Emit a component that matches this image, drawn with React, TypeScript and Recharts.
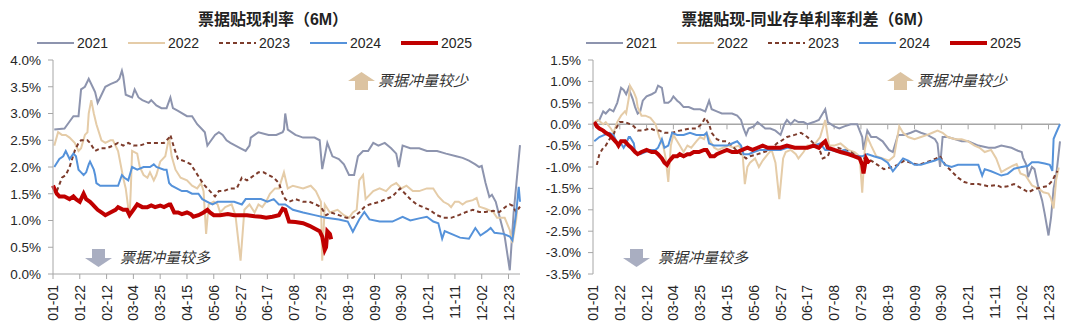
import React from 'react'
import { LineChart, Line, XAxis, YAxis, ReferenceLine } from 'recharts'

type P = [number, number][]

const FONT = '"Liberation Sans", Arial, "Noto Sans CJK SC", sans-serif'
const AXIS = '#a6a6a6'
const INK = '#262626'

// x categories: day index in a 366-day calendar, a label every 21 days
const tickLabels = ['01-01', '01-22', '02-12', '03-04', '03-25', '04-15', '05-06', '05-27', '06-17',
  '07-08', '07-29', '08-19', '09-09', '09-30', '10-21', '11-11', '12-02', '12-23']
const tickDays = tickLabels.map((_, i) => i * 21)
const years = ['2021', '2022', '2023', '2024', '2025']

const rateTicks = [0, 0.5, 1, 1.5, 2, 2.5, 3, 3.5, 4]
const spreadTicks = [-3.5, -3, -2.5, -2, -1.5, -1, -0.5, 0, 0.5, 1, 1.5]

// 票据贴现利率（6M）, %
const rate2021: P = [[1,2.70],[9,2.72],[13,2.85],[16,2.95],[20,2.95],[22,3.45],[25,3.50],[28,3.65],[31,3.50],[33,3.40],[35,3.20],[37,3.30],[41,3.50],[45,3.55],[50,3.60],[52,3.65],[54,3.80],[55,3.70],[57,3.35],[62,3.30],[64,3.45],[67,3.30],[70,3.25],[75,3.20],[77,3.25],[81,3.15],[85,3.10],[89,3.10],[92,3.30],[94,3.10],[98,3.05],[105,2.95],[109,2.95],[113,2.80],[117,2.70],[119,2.65],[121,2.40],[124,2.50],[127,2.60],[130,2.65],[133,2.60],[136,2.50],[139,2.45],[143,2.40],[147,2.35],[151,2.30],[154,2.40],[155,2.55],[158,2.60],[161,2.65],[169,2.60],[175,2.60],[180,2.65],[181,2.70],[182,3.00],[184,2.70],[190,2.60],[196,2.55],[205,2.55],[209,2.50],[211,1.96],[215,2.45],[219,2.20],[224,2.15],[228,2.05],[232,1.85],[236,1.85],[239,2.20],[243,2.30],[247,2.30],[251,2.45],[255,2.40],[260,2.45],[265,2.35],[269,2.25],[271,2.00],[274,2.40],[280,2.35],[287,2.35],[293,2.30],[301,2.30],[308,2.25],[316,2.20],[321,2.17],[326,2.12],[331,2.05],[334,2.00],[336,2.02],[339,1.70],[342,1.44],[344,1.48],[347,1.35],[350,1.07],[354,0.70],[358,0.07],[361,1.14],[366,2.41]]
const rate2022: P = [[1,2.40],[4,2.65],[7,2.60],[10,2.60],[13,2.55],[17,2.45],[20,2.30],[22,2.35],[25,2.60],[27,2.65],[28,3.00],[30,3.25],[32,3.00],[34,2.80],[38,2.50],[41,2.45],[45,2.50],[47,2.50],[51,2.30],[55,1.80],[57,1.60],[60,1.05],[61,1.60],[62,2.30],[66,2.25],[68,2.00],[71,1.85],[74,1.80],[76,1.90],[79,1.75],[81,1.85],[84,2.10],[88,2.20],[91,2.55],[93,2.20],[96,1.95],[100,1.80],[105,1.75],[109,1.65],[113,1.60],[116,1.70],[118,1.55],[120,0.75],[122,1.30],[126,1.35],[129,1.30],[131,1.15],[135,1.25],[140,1.30],[143,1.10],[147,0.25],[150,1.20],[154,1.30],[158,1.15],[161,1.30],[164,1.25],[167,1.35],[170,1.50],[174,1.60],[177,1.60],[181,1.90],[184,1.60],[188,1.65],[196,1.60],[202,1.65],[206,1.55],[210,1.35],[211,0.25],[213,1.30],[217,1.15],[223,1.20],[228,1.10],[232,1.05],[235,1.15],[238,1.20],[240,1.75],[243,1.85],[245,1.40],[251,1.55],[256,1.60],[261,1.55],[265,1.65],[269,1.70],[273,1.60],[277,1.65],[282,1.55],[287,1.55],[293,1.60],[298,1.60],[302,1.45],[306,1.35],[310,1.30],[312,1.25],[315,1.35],[318,1.35],[321,1.30],[324,1.35],[329,1.38],[332,1.42],[334,1.26],[339,1.22],[345,1.16],[348,1.05],[354,1.05],[358,0.82],[360,0.58],[363,1.01],[364,1.26]]
const rate2023: P = [[3,1.55],[7,1.80],[10,1.85],[13,2.00],[17,2.30],[20,2.45],[22,2.50],[27,2.50],[29,2.45],[33,2.30],[37,2.35],[42,2.35],[47,2.40],[51,2.45],[55,2.40],[59,2.45],[63,2.40],[68,2.40],[74,2.45],[79,2.45],[87,2.45],[91,2.55],[92,2.60],[95,2.35],[98,2.15],[104,2.10],[108,2.05],[112,1.90],[116,1.75],[119,1.65],[123,1.55],[127,1.45],[130,1.55],[134,1.55],[139,1.60],[144,1.60],[148,1.80],[152,1.75],[158,1.85],[161,1.90],[165,1.90],[169,1.85],[173,1.80],[177,1.70],[180,1.50],[182,1.40],[185,1.35],[190,1.40],[196,1.35],[201,1.35],[206,1.30],[210,1.25],[214,1.10],[218,1.15],[224,1.10],[230,1.05],[235,1.05],[240,1.15],[244,1.25],[248,1.30],[256,1.35],[261,1.40],[266,1.45],[272,1.60],[276,1.50],[280,1.40],[285,1.30],[290,1.25],[295,1.20],[301,1.10],[306,1.05],[312,1.05],[318,1.10],[324,1.16],[329,1.20],[334,1.16],[339,1.16],[345,1.18],[350,1.16],[355,1.26],[358,1.30],[360,1.28],[363,1.16],[366,1.26]]
const rate2024: P = [[1,2.00],[5,2.15],[8,2.20],[10,2.30],[13,2.15],[16,2.25],[18,2.20],[20,1.95],[22,1.90],[24,1.85],[26,1.90],[28,2.05],[29,2.10],[32,1.95],[33,1.85],[34,1.70],[37,1.65],[45,1.65],[51,1.65],[54,1.85],[56,1.80],[59,1.75],[62,2.00],[66,1.95],[71,2.00],[76,2.00],[79,2.05],[81,2.00],[87,1.95],[89,1.95],[91,1.70],[93,1.65],[97,1.60],[101,1.55],[105,1.55],[109,1.50],[114,1.50],[117,1.40],[121,1.35],[125,1.30],[129,1.35],[137,1.35],[142,1.35],[148,1.30],[151,1.40],[155,1.40],[163,1.40],[168,1.35],[173,1.40],[177,1.30],[182,1.30],[188,1.20],[196,1.15],[205,1.10],[214,1.05],[224,1.02],[231,0.98],[235,0.79],[240,1.02],[244,1.16],[248,1.02],[256,0.98],[266,0.98],[274,1.07],[280,1.00],[287,1.04],[293,1.07],[298,0.98],[302,0.95],[305,0.66],[307,0.80],[314,0.73],[319,0.68],[326,0.66],[331,0.86],[335,0.72],[340,0.80],[343,0.86],[346,0.77],[353,0.75],[358,0.70],[360,0.63],[363,1.14],[365,1.63],[366,1.35]]
const rate2025: P = [[0,1.65],[3,1.50],[5,1.45],[9,1.45],[13,1.40],[16,1.45],[18,1.40],[21,1.35],[23,1.45],[24,1.50],[26,1.40],[29,1.35],[31,1.30],[33,1.25],[35,1.20],[38,1.15],[41,1.10],[45,1.15],[49,1.20],[51,1.25],[55,1.20],[58,1.20],[60,1.10],[63,1.20],[66,1.30],[70,1.25],[74,1.25],[77,1.28],[80,1.25],[84,1.28],[87,1.25],[91,1.30],[92,1.30],[95,1.15],[98,1.15],[101,1.12],[105,1.15],[108,1.12],[110,1.07],[114,1.10],[118,1.15],[121,1.20],[123,1.15],[126,1.10],[131,1.10],[137,1.12],[142,1.10],[147,1.10],[152,1.10],[158,1.08],[163,1.07],[167,1.05],[172,1.07],[177,1.10],[180,1.22],[182,1.20],[185,0.98],[190,0.97],[196,0.95],[201,0.90],[205,0.85],[209,0.80],[211,0.70],[213,0.45],[214,0.50],[215,0.80],[217,0.75],[218,0.65]]

// 票据贴现-同业存单利率利差（6M）, %
const spread2021: P = [[1,0.00],[4,0.10],[5,0.10],[8,0.30],[10,0.25],[13,0.35],[16,0.30],[19,0.50],[22,0.85],[24,0.80],[26,0.70],[28,0.85],[29,0.75],[31,0.60],[33,0.40],[35,0.25],[37,0.30],[39,0.55],[42,0.65],[46,0.70],[49,0.75],[51,0.90],[54,0.85],[56,0.50],[59,0.50],[61,0.55],[63,0.65],[66,0.55],[68,0.50],[71,0.40],[75,0.40],[79,0.35],[84,0.35],[88,0.30],[91,0.55],[93,0.35],[97,0.30],[101,0.25],[105,0.25],[109,0.25],[113,0.20],[116,0.10],[118,-0.10],[120,-0.25],[122,-0.10],[126,-0.05],[129,0.05],[131,0.00],[135,-0.10],[139,-0.10],[143,-0.15],[147,-0.25],[150,0.00],[152,0.10],[155,0.00],[158,0.10],[161,0.05],[165,0.05],[168,0.00],[173,0.05],[177,0.10],[182,0.35],[184,0.05],[189,-0.05],[193,-0.10],[197,-0.05],[202,0.00],[207,0.00],[211,-0.30],[212,-0.60],[215,-0.15],[218,-0.30],[222,-0.30],[227,-0.40],[232,-0.60],[235,-0.65],[239,-0.25],[244,-0.25],[249,-0.20],[253,-0.15],[257,-0.20],[262,-0.25],[268,-0.35],[270,-0.45],[272,-1.00],[274,-0.30],[278,-0.30],[284,-0.35],[289,-0.40],[294,-0.40],[302,-0.50],[310,-0.55],[315,-0.55],[320,-0.50],[328,-0.55],[333,-0.62],[336,-0.65],[337,-0.78],[340,-0.97],[341,-1.24],[344,-1.00],[346,-1.05],[349,-1.47],[352,-1.78],[354,-2.09],[357,-2.60],[359,-2.17],[361,-1.50],[363,-1.20],[366,-0.40]]
const spread2022: P = [[1,0.05],[4,0.10],[8,0.00],[10,0.05],[14,-0.10],[16,-0.20],[19,0.05],[22,0.20],[25,0.30],[26,0.25],[28,0.60],[29,0.90],[32,0.75],[34,0.60],[35,0.40],[38,0.20],[41,0.20],[45,0.15],[49,0.00],[52,-0.30],[55,-0.50],[57,-0.80],[59,-1.35],[61,-0.50],[63,-0.25],[66,-0.40],[68,-0.50],[71,-0.65],[74,-0.50],[77,-0.55],[81,-0.40],[84,-0.30],[87,-0.35],[89,-0.20],[92,-0.40],[95,-0.55],[98,-0.60],[102,-0.55],[106,-0.50],[110,-0.55],[114,-0.50],[117,-0.60],[119,-1.40],[121,-1.00],[123,-0.90],[127,-0.80],[130,-1.00],[133,-0.85],[137,-0.70],[140,-0.60],[143,-0.90],[146,-1.75],[149,-0.80],[151,-0.65],[155,-0.60],[159,-0.70],[161,-0.80],[165,-0.65],[168,-0.50],[173,-0.50],[178,-0.30],[182,0.10],[185,-0.50],[189,-0.50],[194,-0.45],[200,-0.60],[205,-0.65],[209,-0.75],[211,-1.60],[213,-0.60],[215,-0.30],[218,-0.50],[222,-0.75],[227,-0.80],[232,-0.85],[236,-0.75],[240,-0.05],[243,-0.20],[247,-0.30],[252,-0.35],[257,-0.30],[262,-0.25],[266,-0.20],[270,-0.15],[274,-0.20],[278,-0.30],[284,-0.35],[289,-0.35],[294,-0.40],[299,-0.50],[303,-0.55],[307,-0.65],[312,-0.60],[316,-0.80],[320,-1.12],[324,-1.05],[329,-0.97],[332,-0.93],[335,-1.15],[339,-1.20],[344,-1.43],[349,-1.50],[353,-1.59],[357,-1.62],[359,-1.74],[361,-1.97],[363,-1.30],[365,-1.01]]
const spread2023: P = [[3,-0.95],[5,-0.70],[8,-0.55],[10,-0.50],[13,-0.35],[16,-0.25],[18,-0.10],[21,0.05],[25,0.05],[29,0.00],[32,-0.05],[35,-0.15],[39,-0.15],[45,-0.10],[49,-0.15],[52,-0.15],[56,-0.20],[62,-0.20],[68,-0.15],[76,-0.10],[81,-0.10],[85,0.00],[88,0.15],[91,0.00],[93,-0.20],[97,-0.35],[101,-0.40],[105,-0.40],[109,-0.50],[112,-0.60],[116,-0.70],[120,-0.80],[123,-0.75],[129,-0.70],[134,-0.65],[139,-0.60],[144,-0.45],[147,-0.40],[152,-0.30],[158,-0.25],[163,-0.20],[168,-0.30],[173,-0.45],[177,-0.55],[180,-0.80],[184,-0.75],[186,-0.60],[192,-0.55],[197,-0.60],[202,-0.65],[207,-0.75],[213,-0.80],[218,-0.85],[223,-0.95],[228,-1.05],[234,-1.00],[239,-0.95],[244,-0.85],[249,-0.90],[255,-0.95],[260,-0.90],[265,-0.85],[269,-0.80],[272,-0.75],[276,-0.95],[281,-1.10],[286,-1.25],[291,-1.35],[297,-1.40],[302,-1.40],[310,-1.45],[316,-1.42],[320,-1.47],[325,-1.45],[330,-1.40],[333,-1.45],[339,-1.55],[341,-1.59],[346,-1.52],[352,-1.47],[356,-1.45],[360,-1.32],[362,-1.20],[364,-1.09]]
const spread2024: P = [[1,-0.40],[5,-0.30],[9,-0.25],[13,-0.20],[16,-0.25],[20,-0.50],[22,-0.45],[24,-0.55],[26,-0.45],[28,-0.30],[29,-0.30],[32,-0.45],[33,-0.65],[37,-0.70],[41,-0.65],[45,-0.60],[49,-0.60],[51,-0.55],[54,-0.35],[56,-0.55],[59,-0.50],[62,-0.20],[66,-0.25],[71,-0.25],[76,-0.20],[81,-0.25],[87,-0.25],[89,-0.20],[91,-0.45],[95,-0.50],[101,-0.50],[105,-0.50],[109,-0.45],[113,-0.40],[116,-0.50],[118,-0.70],[122,-0.70],[126,-0.65],[131,-0.60],[137,-0.60],[142,-0.60],[147,-0.60],[152,-0.55],[158,-0.55],[163,-0.55],[168,-0.55],[173,-0.50],[178,-0.45],[182,-0.60],[186,-0.60],[192,-0.65],[197,-0.60],[202,-0.70],[207,-0.75],[211,-0.75],[215,-0.70],[220,-0.75],[226,-0.80],[231,-0.90],[235,-1.10],[239,-0.95],[243,-0.80],[247,-0.85],[252,-0.95],[257,-0.95],[262,-0.90],[268,-0.85],[272,-0.80],[276,-0.95],[281,-1.00],[286,-0.95],[294,-0.95],[302,-0.95],[305,-1.20],[307,-1.05],[312,-1.10],[316,-1.15],[320,-1.20],[325,-1.16],[330,-1.04],[336,-1.00],[341,-0.97],[344,-0.89],[349,-0.89],[354,-0.92],[358,-0.95],[360,-1.09],[361,-0.34],[363,-0.20],[366,0.00]]
const spread2025: P = [[1,0.05],[3,-0.05],[5,-0.10],[8,-0.15],[10,-0.20],[13,-0.25],[16,-0.35],[19,-0.45],[20,-0.50],[22,-0.40],[25,-0.40],[28,-0.50],[30,-0.55],[33,-0.65],[35,-0.70],[38,-0.65],[42,-0.60],[46,-0.65],[49,-0.65],[51,-0.70],[54,-0.80],[56,-0.90],[58,-0.95],[60,-0.85],[63,-0.75],[66,-0.75],[68,-0.70],[71,-0.75],[74,-0.70],[76,-0.70],[79,-0.65],[83,-0.65],[87,-0.60],[89,-0.60],[92,-0.75],[95,-0.75],[97,-0.70],[101,-0.65],[105,-0.60],[109,-0.65],[113,-0.65],[117,-0.60],[121,-0.55],[125,-0.60],[129,-0.55],[133,-0.50],[137,-0.55],[142,-0.55],[147,-0.55],[152,-0.50],[158,-0.55],[163,-0.55],[168,-0.55],[173,-0.50],[177,-0.55],[180,-0.45],[182,-0.40],[184,-0.55],[189,-0.60],[194,-0.65],[200,-0.70],[205,-0.75],[209,-0.80],[211,-0.95],[212,-1.15],[214,-0.80],[215,-0.85],[217,-0.90]]

const STYLE: Record<string, { color: string; width: number; dash?: string }> = {
  '2021': { color: '#8d94ae', width: 2 },
  '2022': { color: '#e5cca8', width: 2 },
  '2023': { color: '#7d3c2c', width: 2, dash: '4 3' },
  '2024': { color: '#5592da', width: 2 },
  '2025': { color: '#c00000', width: 4 },
}

function buildRows(series: P[]) {
  const rows: any[] = Array.from({ length: 367 }, (_, d) => ({ d }))
  series.forEach((pts, i) => pts.forEach(([d, v]) => { rows[d]['y' + years[i]] = v }))
  return rows
}

function DateTick(props: any) {
  const { x, y, payload } = props
  const label = tickLabels[tickDays.indexOf(payload.value)]
  return (
    <text x={x} y={y} transform={`rotate(-90, ${x}, ${y})`} textAnchor="end" dy="0.36em"
      fontSize={14} fill={INK} fontFamily={FONT}>{label}</text>
  )
}

function Arrow({ up, color }: { up: boolean; color: string }) {
  const pts = up ? '13.5,0 27,9 20,9 20,18 7,18 7,9 0,9' : '7,0 20,0 20,9 27,9 13.5,18 0,9 7,9'
  return <svg width={27} height={18} style={{ display: 'block' }}><polygon points={pts} fill={color} /></svg>
}

function Note({ left, top, up, text }: { left: number; top: number; up: boolean; text: string }) {
  return (
    <div style={{ position: 'absolute', left, top, display: 'flex', alignItems: 'center', gap: up ? 3 : 8 }}>
      <Arrow up={up} color={up ? '#dcc3a1' : '#a9aec1'} />
      <span style={{ fontFamily: FONT, fontSize: 15, fontStyle: 'italic', color: '#333', lineHeight: '18px' }}>{text}</span>
    </div>
  )
}

function LegendRow({ left }: { left: number }) {
  return (
    <>
      {years.map((yr, i) => {
        const s = STYLE[yr]
        return (
          <div key={yr} style={{ position: 'absolute', left: left + i * 91, top: 35, height: 16, display: 'flex', alignItems: 'center' }}>
            <svg width={37} height={6}><line x1={0} y1={3} x2={37} y2={3} stroke={s.color} strokeWidth={yr === '2025' ? 4 : 2.2} strokeDasharray={s.dash} /></svg>
            <span style={{ marginLeft: 3, fontFamily: FONT, fontSize: 14, color: INK }}>{yr}</span>
          </div>
        )
      })}
    </>
  )
}

function Panel({ series, domain, ticks, zeroAxis }: { series: P[]; domain: [number, number]; ticks: number[]; zeroAxis: boolean }) {
  const rows = buildRows(series)
  return (
    <LineChart width={540} height={329} data={rows} margin={{ top: 60, right: 20, left: 0, bottom: 0 }}>
      <XAxis type="number" dataKey="d" domain={[0, 366]} ticks={tickDays} interval={0} height={55}
        tick={<DateTick />} tickSize={5} tickMargin={6} stroke={AXIS}
        axisLine={!zeroAxis} tickLine={!zeroAxis} />
      <YAxis domain={domain} ticks={ticks} interval={0} width={53} stroke={AXIS} tickSize={5} tickMargin={7}
        tick={{ fontSize: 13.5, fill: INK, fontFamily: FONT }} tickFormatter={(v: number) => v.toFixed(1) + '%'} />
      {zeroAxis && <ReferenceLine y={0} stroke={AXIS} strokeWidth={1.6} />}
      {zeroAxis && tickDays.map(t => (
        <ReferenceLine key={t} segment={[{ x: t, y: 0 }, { x: t, y: -0.12 }]} stroke={AXIS} strokeWidth={1} />
      ))}
      {years.map(yr => {
        const s = STYLE[yr]
        return (
          <Line key={yr} dataKey={'y' + yr} type="linear" stroke={s.color} strokeWidth={s.width}
            strokeDasharray={s.dash} dot={false} activeDot={false} connectNulls isAnimationActive={false} />
        )
      })}
    </LineChart>
  )
}

export default function App() {
  const titleStyle: React.CSSProperties = {
    position: 'absolute', top: 10, width: 400, textAlign: 'center',
    fontFamily: FONT, fontSize: 16, fontWeight: 700, color: '#222', lineHeight: '20px',
  }
  return (
    <div style={{ position: 'absolute', left: 0, top: 0, width: 1080, height: 329, background: '#fff', overflow: 'hidden' }}>
      <div style={{ position: 'absolute', left: 0, top: 0 }}>
        <Panel series={[rate2021, rate2022, rate2023, rate2024, rate2025]} domain={[0, 4]} ticks={rateTicks} zeroAxis={false} />
      </div>
      <div style={{ position: 'absolute', left: 540, top: 0 }}>
        <Panel series={[spread2021, spread2022, spread2023, spread2024, spread2025]} domain={[-3.5, 1.5]} ticks={spreadTicks} zeroAxis />
      </div>
      <div style={{ ...titleStyle, left: 273 - 200 }}>票据贴现利率（6M）</div>
      <div style={{ ...titleStyle, left: 807 - 200 }}>票据贴现-同业存单利率利差（6M）</div>
      <LegendRow left={37} />
      <LegendRow left={586} />
      <Note left={348} top={72} up text="票据冲量较少" />
      <Note left={85} top={249} up={false} text="票据冲量较多" />
      <Note left={887} top={72} up text="票据冲量较少" />
      <Note left={623} top={249} up={false} text="票据冲量较多" />
    </div>
  )
}
